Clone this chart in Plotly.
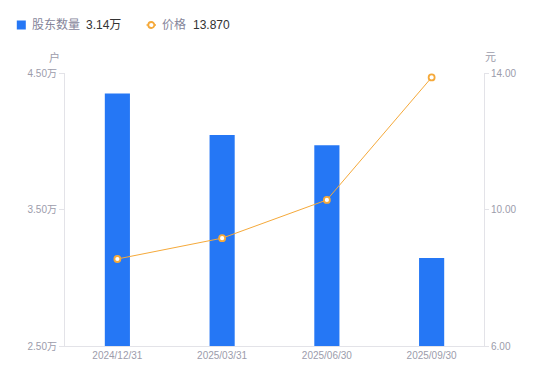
import plotly.graph_objects as go

dates = ["2024/12/31", "2025/03/31", "2025/06/30", "2025/09/30"]
holders = [4.35, 4.045, 3.97, 3.145]  # 万户
price = [8.55, 9.16, 10.28, 13.87]
left_ticks = [2.5, 3.5, 4.5]
left_labels = ["2.50万", "3.50万", "4.50万"]
right_ticks = [6, 10, 14]
right_labels = ["6.00", "10.00", "14.00"]
legend_names = ["股东数量", "价格"]
legend_values = ["3.14万", "13.870"]

blue = "#2577F5"
orange = "#F5A93A"
gray = "#9C9CAB"
legend_gray = "#85859A"
dark = "#333333"
axis_col = "#E3E3E8"
font = "Liberation Sans, Arial, Noto Sans CJK SC, sans-serif"

# page body has an 8px margin; figure sized so it fits the window
W, H = 542, 373
L, R, T, B = 57, 66, 65, 35
PW, PH = W - L - R, H - T - B


def px(x):
    return (x - 8 - L) / PW


def py(y):
    return 1 - (y - 8 - T) / PH


fig = go.Figure()
fig.add_trace(go.Bar(
    x=dates, y=holders, marker=dict(color=blue, line=dict(width=0)),
    width=0.24, name=legend_names[0], yaxis="y",
))
fig.add_trace(go.Scatter(
    x=dates, y=price, mode="lines+markers", yaxis="y2",
    line=dict(color=orange, width=1),
    marker=dict(size=6, color="white", line=dict(color=orange, width=1.8)),
    name=legend_names[1],
))

ann = []
shapes = []
# custom legend
shapes.append(dict(type="rect", xref="paper", yref="paper",
                   x0=px(16.8), x1=px(25.8), y0=py(29.5), y1=py(20.5),
                   fillcolor=blue, line=dict(width=0), layer="above"))
shapes.append(dict(type="line", xref="paper", yref="paper",
                   x0=px(146.5), x1=px(156), y0=py(25), y1=py(25),
                   line=dict(color=orange, width=1.5)))
shapes.append(dict(type="circle", xref="paper", yref="paper",
                   x0=px(148.3), x1=px(154.3), y0=py(28), y1=py(22),
                   fillcolor="white", line=dict(color=orange, width=1.8)))
for x, txt, col in [(29.8, legend_names[0], legend_gray), (84, legend_values[0], dark),
                    (159.8, legend_names[1], legend_gray), (190.8, legend_values[1], dark)]:
    ann.append(dict(text=txt, xref="paper", yref="paper", x=px(x), y=py(25),
                    xanchor="left", yanchor="middle", showarrow=False,
                    font=dict(size=12, color=col, family=font)))
# unit labels
ann.append(dict(text="户", xref="paper", yref="paper", x=px(54.5), y=py(57),
                xanchor="center", yanchor="middle", showarrow=False,
                font=dict(size=11, color=gray, family=font)))
ann.append(dict(text="元", xref="paper", yref="paper", x=px(490.5), y=py(57),
                xanchor="center", yanchor="middle", showarrow=False,
                font=dict(size=11, color=gray, family=font)))

fig.update_layout(
    width=W, height=H,
    margin=dict(l=L, r=R, t=T, b=B),
    plot_bgcolor="white", paper_bgcolor="white",
    font=dict(family=font, color=gray, size=10),
    showlegend=False,
    xaxis=dict(type="category", range=[-0.5, 3.5], showgrid=False,
               showline=True, linecolor=axis_col, linewidth=1,
               ticks="", tickfont=dict(size=10, color=gray)),
    yaxis=dict(range=[2.5, 4.5], tickvals=left_ticks, ticktext=left_labels,
               showgrid=False, zeroline=False, showline=True, linecolor=axis_col,
               ticks="outside", ticklen=5, tickcolor=axis_col,
               tickfont=dict(size=10, color=gray)),
    yaxis2=dict(range=[6, 14], tickvals=right_ticks, ticktext=right_labels,
                overlaying="y", side="right",
                showgrid=False, zeroline=False, showline=True, linecolor=axis_col,
                ticks="outside", ticklen=4, tickcolor=axis_col,
                tickfont=dict(size=10, color=gray)),
    annotations=ann,
    shapes=shapes,
)
fig.write_html("out.html")
